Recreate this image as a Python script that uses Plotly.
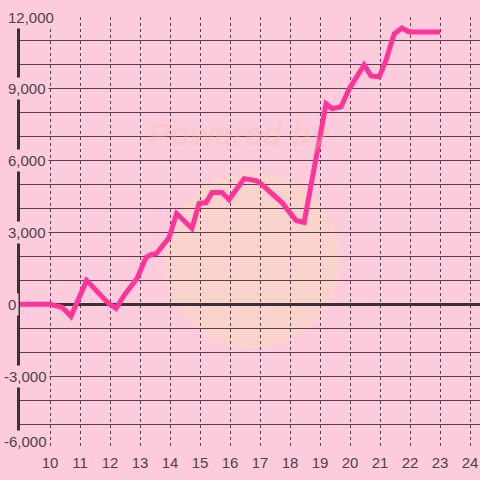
import plotly.graph_objects as go

x_vals = [9, 10, 10.4, 10.7, 11.22, 11.95, 12.2, 12.47, 12.9, 13.2, 13.37, 13.55, 13.97,
          14.22, 14.73, 14.97, 15.2, 15.4, 15.73, 15.97, 16.47, 16.87, 17.03, 17.4,
          17.73, 18.2, 18.47, 19.2, 19.4, 19.7, 19.97, 20.47, 20.7, 20.97, 21.2,
          21.47, 21.73, 21.97, 23.0]
y_vals = [0, 0, -125, -500, 1000, 40, -170, 375, 1080, 1960, 2080, 2125, 2790,
          3790, 3170, 4210, 4250, 4670, 4670, 4375, 5250, 5170, 5040, 4625,
          4250, 3500, 3420, 8375, 8170, 8250, 9000, 10000, 9540, 9500, 10200,
          11290, 11540, 11375, 11375]

y_ticks = [12000, 9000, 6000, 3000, 0, -3000, -6000]
x_ticks = list(range(10, 25))

bg = '#FCCCDC'
grid = '#5A4050'
axis_col = '#3A3035'
text_col = '#4D4248'

fig = go.Figure()
fig.add_scatter(x=x_vals, y=y_vals, mode='lines',
                line={'color': '#FF339A', 'width': 5}, showlegend=False)

# faint watermark
fig.add_shape(type='circle', xref='x', yref='y', x0=13.8, x1=19.67, y0=-1833, y1=5500,
              fillcolor='#FAD6C8', opacity=0.75, line={'width': 0}, layer='below')
fig.add_annotation(text='<b><i>Powered by</i></b>', x=16.33, y=7125, xref='x', yref='y',
                   showarrow=False, font=dict(size=32, color='rgba(248,190,160,0.3)',
                                              family='Liberation Sans'))

for v in y_ticks:
    fig.add_annotation(text=f'{v:,}', x=-15 / 460, y=v, xref='paper', yref='y',
                       xanchor='left', xshift=-4 if v < 0 else 0,
                       yshift=7 if v == -6000 else 0,
                       showarrow=False, bgcolor=bg, borderpad=2,
                       font=dict(size=15, color=text_col, family='Liberation Sans'))

fig.update_layout(
    width=480, height=480,
    margin=dict(l=20, r=0, t=17, b=32),
    paper_bgcolor=bg, plot_bgcolor=bg,
    xaxis=dict(range=[9, 24.33], tickvals=x_ticks, showgrid=True, gridcolor=grid,
               griddash='dot', gridwidth=1, zeroline=False, showline=False, ticks='',
               ticklabelstandoff=4,
               tickfont=dict(size=15, color=text_col, family='Liberation Sans')),
    yaxis=dict(range=[-6000, 12000], tickvals=y_ticks, showticklabels=False,
               showgrid=True, gridcolor=grid, gridwidth=1,
               minor=dict(dtick=1000, showgrid=True, gridcolor=grid, gridwidth=1),
               zeroline=True, zerolinecolor=axis_col, zerolinewidth=3,
               showline=True, linecolor=axis_col, linewidth=3, ticks=''),
)

fig.write_html("out.html", config={'displayModeBar': False},
               post_script="document.body.style.margin='0';")
